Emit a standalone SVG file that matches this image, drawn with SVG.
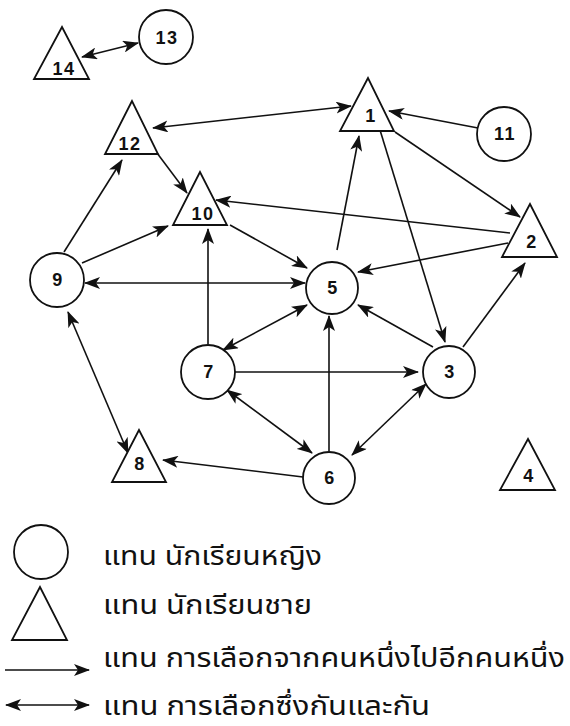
<svg xmlns="http://www.w3.org/2000/svg" width="570" height="726" viewBox="0 0 570 726">
<style>
.n{fill:#fff;stroke:#111;stroke-width:1.8}
.e{stroke:#111;stroke-width:1.6;fill:none;marker-end:url(#ah)}
.b{marker-start:url(#ah)}
.t{font-family:"Liberation Sans",Arial,sans-serif;font-weight:bold;font-size:18px;text-anchor:middle;fill:#111;letter-spacing:1.5px}
.l{font-family:"Noto Sans Thai","Noto Sans","DejaVu Sans",sans-serif;font-size:26px;fill:#111}
</style>
<defs>
<marker id="ah" markerUnits="userSpaceOnUse" markerWidth="16" markerHeight="12" refX="15" refY="6" orient="auto-start-reverse" viewBox="0 0 16 12">
<path d="M0,0 L16,6 L0,12 L4,6 z" fill="#111"/>
</marker>
</defs>
<rect width="570" height="726" fill="#fff"/>
<g id="edges">
<line class="e b" x1="82" y1="57" x2="138" y2="43"/>
<line class="e b" x1="153" y1="128" x2="351" y2="106"/>
<line class="e" x1="478" y1="128" x2="389" y2="111"/>
<line class="e" x1="395" y1="132" x2="520" y2="217"/>
<line class="e" x1="380" y1="130" x2="445" y2="342"/>
<line class="e" x1="337" y1="250" x2="359" y2="136"/>
<line class="e" x1="510" y1="233" x2="216" y2="200"/>
<line class="e" x1="508" y1="243" x2="358" y2="272"/>
<line class="e" x1="463" y1="347" x2="525" y2="263"/>
<line class="e" x1="433" y1="347" x2="358" y2="305"/>
<line class="e" x1="157" y1="153" x2="187" y2="193"/>
<line class="e" x1="64" y1="252" x2="122" y2="160"/>
<line class="e" x1="82" y1="263" x2="168" y2="226"/>
<line class="e" x1="230" y1="225" x2="307" y2="268"/>
<line class="e b" x1="85" y1="283" x2="305" y2="283"/>
<line class="e" x1="208" y1="344" x2="208" y2="229"/>
<line class="e b" x1="223" y1="350" x2="307" y2="305"/>
<line class="e" x1="235" y1="372" x2="418" y2="372"/>
<line class="e b" x1="227" y1="390" x2="312" y2="453"/>
<line class="e" x1="329" y1="451" x2="329" y2="316"/>
<line class="e b" x1="352" y1="455" x2="426" y2="384"/>
<line class="e" x1="303" y1="477" x2="163" y2="460"/>
<line class="e b" x1="68" y1="312" x2="128" y2="453"/>
</g>
<g id="n1"><polygon class="n" points="368,78 340,131 394,131"/><text class="t" x="371" y="122">1</text></g>
<g id="n2"><polygon class="n" points="530,204 502,257 557,257"/><text class="t" x="532" y="248">2</text></g>
<g id="n3"><circle class="n" cx="449" cy="372" r="26"/><text class="t" x="450" y="378">3</text></g>
<g id="n4"><polygon class="n" points="528,439 500,490 555,490"/><text class="t" x="529" y="482">4</text></g>
<g id="n5"><circle class="n" cx="332" cy="288" r="26"/><text class="t" x="333" y="294">5</text></g>
<g id="n6"><circle class="n" cx="329" cy="478" r="26"/><text class="t" x="330" y="484">6</text></g>
<g id="n7"><circle class="n" cx="208" cy="372" r="27"/><text class="t" x="209" y="378">7</text></g>
<g id="n8"><polygon class="n" points="139,430 112,482 166,482"/><text class="t" x="140" y="470">8</text></g>
<g id="n9"><circle class="n" cx="57" cy="280" r="27"/><text class="t" x="58" y="286">9</text></g>
<g id="n10"><polygon class="n" points="200,172 173,225 227,225"/><text class="t" x="203" y="220">10</text></g>
<g id="n11"><circle class="n" cx="504" cy="134" r="27"/><text class="t" x="505" y="140">11</text></g>
<g id="n12"><polygon class="n" points="132,101 105,154 158,154"/><text class="t" x="130" y="150">12</text></g>
<g id="n13"><circle class="n" cx="166" cy="37" r="27"/><text class="t" x="167" y="44">13</text></g>
<g id="n14"><polygon class="n" points="62,27 34,79 89,79"/><text class="t" x="64" y="75">14</text></g>
<g id="legend">
<circle class="n" cx="41" cy="552" r="27"/>
<polygon class="n" points="40,587 12,640 67,640"/>
<line class="e" x1="5" y1="670" x2="89" y2="670"/>
<line class="e b" x1="6" y1="705" x2="89" y2="705"/>
<text class="l" x="103" y="565" textLength="219" lengthAdjust="spacingAndGlyphs">แทน นักเรียนหญิง</text>
<text class="l" x="103" y="614" textLength="209" lengthAdjust="spacingAndGlyphs">แทน นักเรียนชาย</text>
<text class="l" x="103" y="667" textLength="462" lengthAdjust="spacingAndGlyphs">แทน การเลือกจากคนหนึ่งไปอีกคนหนึ่ง</text>
<text class="l" x="103" y="715" textLength="327" lengthAdjust="spacingAndGlyphs">แทน การเลือกซึ่งกันและกัน</text>
</g>
</svg>
